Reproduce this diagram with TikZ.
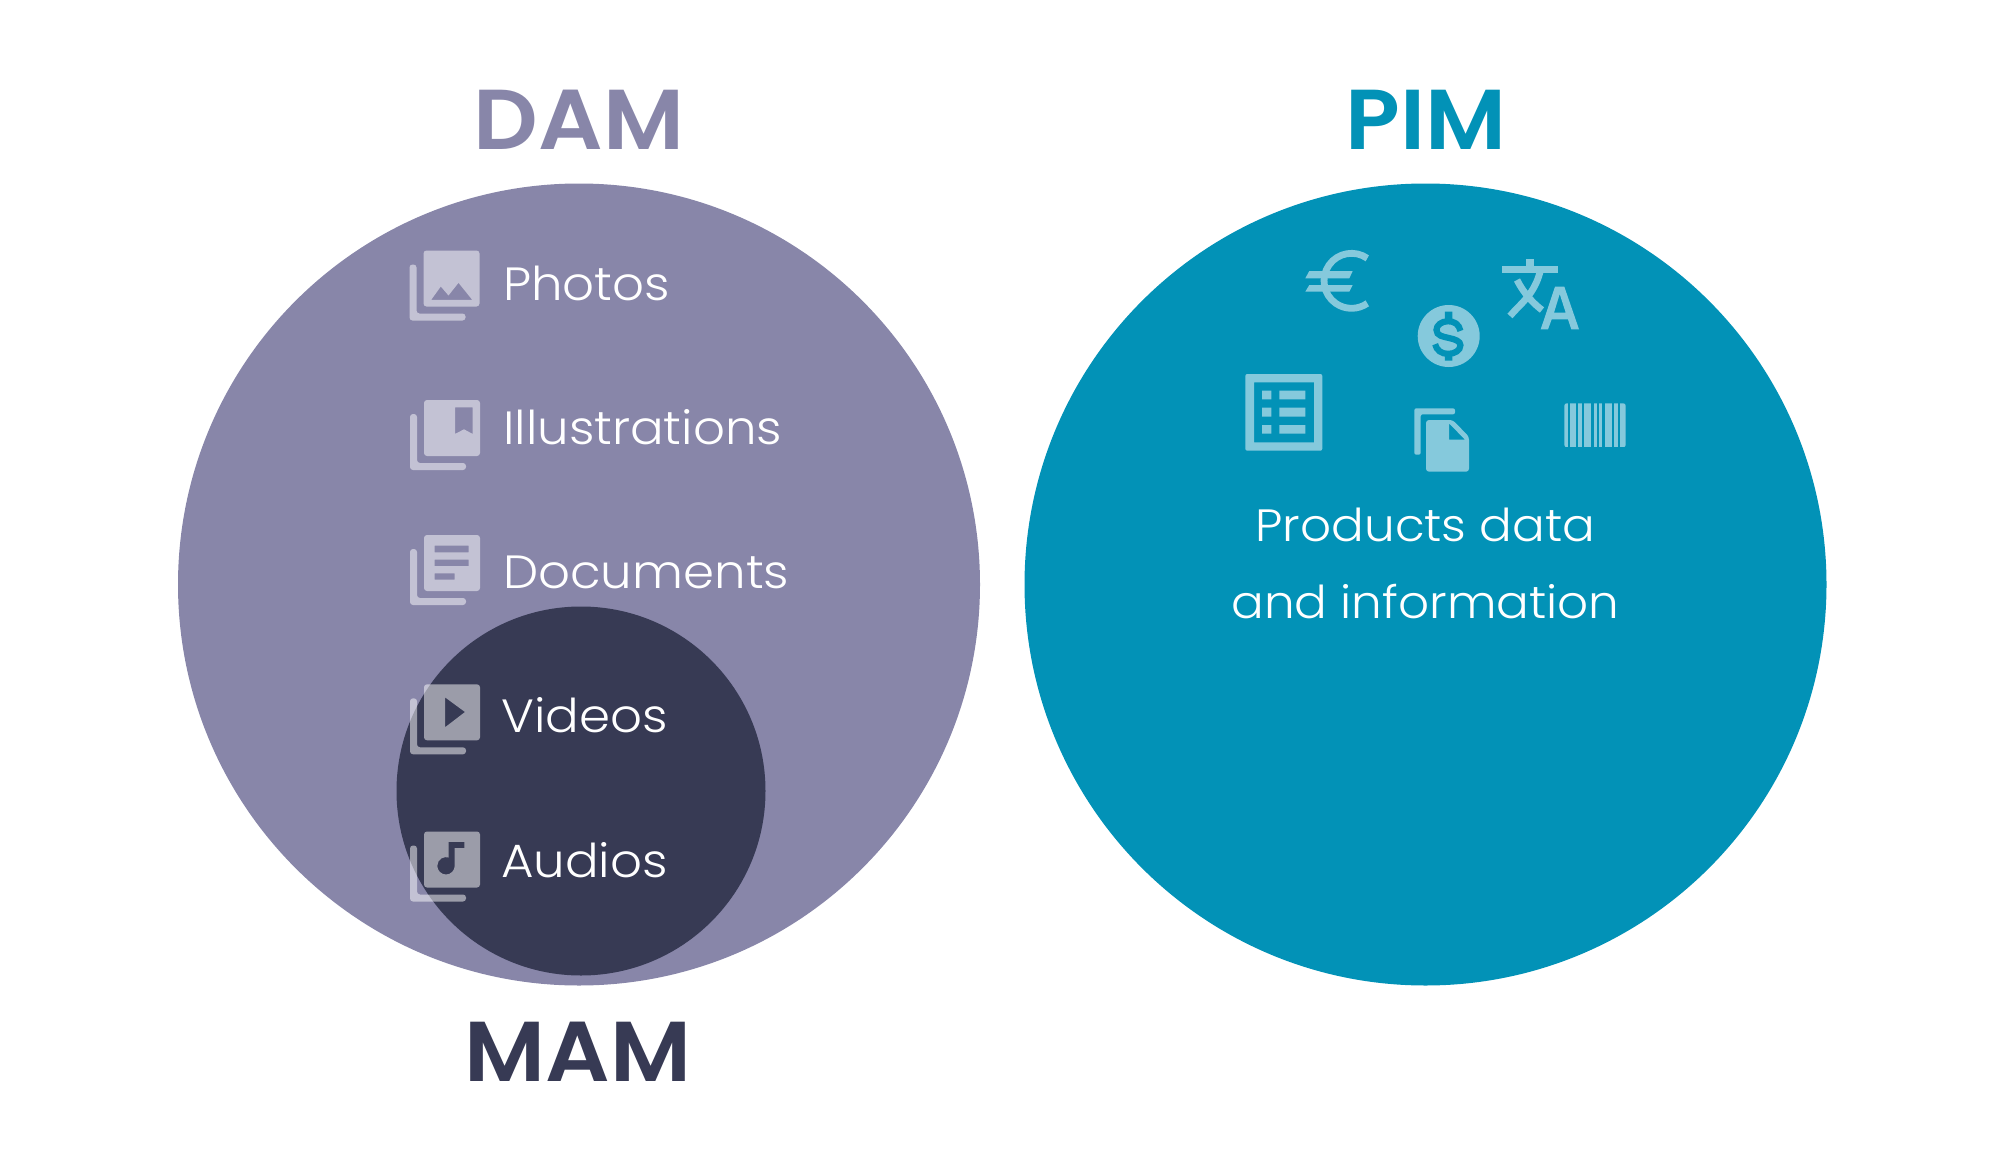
\documentclass[tikz,border=0pt]{standalone}
\usepackage{fontspec}
\usepackage{xcolor}
\setmainfont{Poppins}
\newfontfamily\lightfont[FakeStretch=1.07]{Poppins Light}
\newfontfamily\headfont[FakeStretch=1.06]{Poppins SemiBold}
\usetikzlibrary{positioning}

\definecolor{damcol}{HTML}{8886A9}
\definecolor{mamcol}{HTML}{373A54}
\definecolor{pimcol}{HTML}{0292B7}
\definecolor{pimicon}{HTML}{85C9DC}

\tikzset{
  blob/.style={circle,inner sep=0pt,outer sep=0pt},
  title/.style={font=\fontsize{85}{85}\selectfont\headfont,anchor=base,inner sep=0pt},
  item/.style={font=\fontsize{46.6}{47}\selectfont\lightfont,text=white,anchor=base west,inner sep=0pt},
  infotext/.style={font=\fontsize{45.3}{47}\selectfont\lightfont,text=white,anchor=base,inner sep=0pt},
  iconpart/.style={fill=white,fill opacity=.5,even odd rule},
  pimpart/.style={fill=pimicon,even odd rule},
  pimline/.style={draw=pimicon,line width=6.8pt},
}

% library icon: back corner and front sheet with #2 cut out of it
\newcommand{\libicon}[2]{
\begin{scope}[shift={#1}]
\path[iconpart,rounded corners=3pt] (-14,14)--(-7,14)--(-7,63)--(42,63)--(42,70)--(-14,70)--cycle;
\path[iconpart,rounded corners=3pt] (0,0) rectangle (56,56) [sharp corners] #2;
\end{scope}
}

\begin{document}
\begin{tikzpicture}[x=1pt,y=-1pt]
\useasboundingbox (0,0) rectangle (2000,1167);
\node[blob,minimum size=802pt,fill=damcol] (dam) at (579,584.5){};
\node[blob,minimum size=802pt,fill=pimcol] (pim) at (1425.5,584.5){};
\node[blob,minimum size=369pt,fill=mamcol] (mam) at (581,791){};

\node[title,text=damcol] (damtitle) at (579,149){DAM};
\node[title,text=pimcol] (pimtitle) at (1426,149){PIM};
\node[title,text=mamcol] (mamtitle) at (578,1081.5){MAM};

\node[item] (photos) at (503,300){Photos};
\node[item,below=144pt of photos.base west,anchor=base west] (illus){Illustrations};
\node[item,below=144pt of illus.base west,anchor=base west] (docs){Documents};
\node[item,below=144pt of docs.base west,anchor=base west,xshift=-2pt] (videos){Videos};
\node[item,below=145pt of videos.base west,anchor=base west] (audios){Audios};

\libicon{(423.5,250.5)}{(7.7,49.3)--(17.3,36)--(25,45)--(35,32.3)--(48.7,49.3)--cycle}
\libicon{(424,400)}{(31,7.3)--(48.7,7.3)--(48.7,34)--(40,29.3)--(31,34)--cycle}
\libicon{(424,535)}{(10.7,10.7) rectangle (44.7,17.3) (10.7,24.7) rectangle (44.7,31) (10.7,38.3) rectangle (30.7,44.7)}
\libicon{(424,684.3)}{(21,13)--(41,27.7)--(21,43)--cycle}
\libicon{(424,831.5)}{(24.7,10.3)--(40.3,10.3)--(40.3,16.7)--(30.7,16.7)--(30.7,34.3) arc[start angle=0,end angle=288,radius=8.7]--cycle}

\node[infotext] (prod) at (1425.5,541){Products data};
\node[infotext,below=77pt of prod.base,anchor=base] (info){and information};

% euro
\draw[pimline] (1367.3,258.3) arc[start angle=-55,end angle=-305,radius=27.5];
\path[pimpart] (1309.3,271)--(1352.7,271)--(1349.3,278.3)--(1305.3,278.3)--cycle;
\path[pimpart] (1309.3,285)--(1352.7,285)--(1349.3,291.7)--(1305.3,291.7)--cycle;
% translate
\path[pimpart] (1501.7,266)--(1558.3,266)--(1558.3,273.3)--(1501.7,273.3)--cycle;
\path[pimpart] (1526,259)--(1534,259)--(1534,266)--(1526,266)--cycle;
\draw[pimline] (1540,272) .. controls (1534,295) and (1520,304) .. (1510,316);
\draw[pimline] (1517,280) .. controls (1524,294) and (1534,304) .. (1542,310);
\path[pimpart] (1540.7,329.3)--(1555,286.7)--(1564.3,286.7)--(1579,329.3)--(1571.3,329.3)--(1568,319.3)--(1551.7,319.3)--(1548,329.3)--cycle
 (1554,312.7)--(1565.7,312.7)--(1559.7,294)--cycle;
% dollar
\path[fill=pimicon] (1448.7,336) circle (31pt);
\begin{scope}[shift={(1230,230)},x=.333pt,y=-.333pt]
\draw[draw=pimcol,line width=6.2pt] (692,303) .. controls (688,282) and (672,274) .. (655,274) .. controls (635,274) and (620,286) .. (620,300) .. controls (620,318) and (640,320) .. (656,324) .. controls (676,328) and (692,334) .. (692,346) .. controls (692,362) and (674,372) .. (655,372) .. controls (636,372) and (620,362) .. (616,343);
\path[fill=pimcol] (645,245) rectangle (668,272) (645,372) rectangle (668,392);
\end{scope}
% table
\path[pimpart,rounded corners=2pt] (1245.3,374) rectangle (1322.3,450.7) [sharp corners]
 (1254,382.3) rectangle (1314,442.3)
 (1262,390.7) rectangle (1271.3,399.3) (1262,407.7) rectangle (1271.3,416.7) (1262,425) rectangle (1271.3,433.7)
 (1279.3,390.7) rectangle (1305.3,399.3) (1279.3,407.7) rectangle (1305.3,416.7) (1279.3,425) rectangle (1305.3,433.7);
% file
\path[pimpart,rounded corners=2pt] (1414.3,454.7)--(1414.3,408.3)--(1455,408.3)--(1455,414.3)--(1420.7,414.3)--(1420.7,454.7)--cycle;
\path[pimpart,rounded corners=3pt] (1426,420)--(1452.7,420)--(1469,436.7)--(1469,471.7)--(1426,471.7)--cycle [sharp corners]
 (1449,423.3)--(1449,439.7)--(1465,439.7)--cycle;
% barcode
\begin{scope}
\clip[rounded corners=2.5pt] (1564.3,403.3) rectangle (1625.7,447.3);
\foreach \xa/\xb in {43/53,60/78,85/95,102/124,131/141,148/157,165/186,193/203,210/227}
  \path[fill=pimicon] ({1550+\xa/3},403.3) rectangle ({1550+\xb/3},447.3);
\end{scope}
\end{tikzpicture}
\end{document}
